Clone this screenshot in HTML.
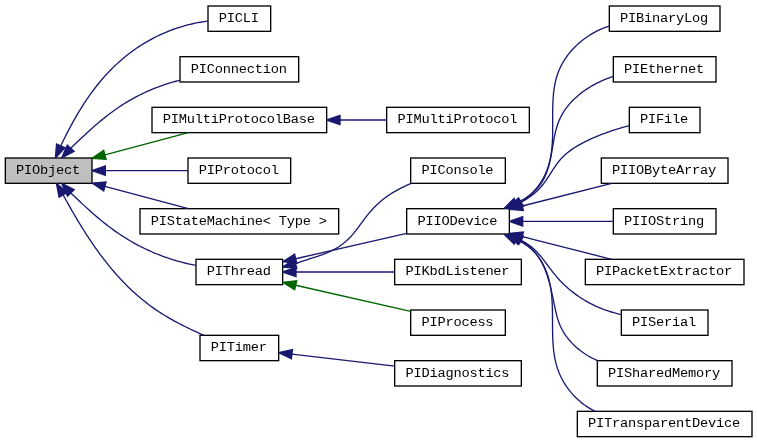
<!DOCTYPE html>
<html><head><meta charset="utf-8"><title>PIObject inheritance graph</title>
<style>
html,body{margin:0;padding:0;background:#fff;}
svg{display:block;}
text{font-family:"Liberation Mono",monospace;font-size:13.700px;fill:#000;text-anchor:middle;letter-spacing:-0.22px;}
.b{stroke:#000;stroke-width:1.333;}
.e{fill:none;stroke-width:1.333;stroke-linejoin:round;}
.a{stroke-width:1.333;stroke-linejoin:miter;stroke-miterlimit:2;}
</style></head>
<body>
<svg width="757" height="443" viewBox="0 0 757 443">
<rect x="0" y="0" width="757" height="443" fill="#fff"/>
<rect class="b" x="5.33" y="158.00" width="86.67" height="25.33" fill="#bfbfbf"/>
<rect class="b" x="208.00" y="6.00" width="62.67" height="25.33" fill="#fff"/>
<rect class="b" x="180.00" y="56.67" width="118.67" height="25.33" fill="#fff"/>
<rect class="b" x="152.00" y="107.33" width="174.67" height="25.33" fill="#fff"/>
<rect class="b" x="188.00" y="158.00" width="102.67" height="25.33" fill="#fff"/>
<rect class="b" x="140.00" y="208.67" width="198.67" height="25.33" fill="#fff"/>
<rect class="b" x="196.00" y="259.33" width="86.67" height="25.33" fill="#fff"/>
<rect class="b" x="200.00" y="335.33" width="78.67" height="25.33" fill="#fff"/>
<rect class="b" x="386.67" y="107.33" width="142.67" height="25.33" fill="#fff"/>
<rect class="b" x="410.67" y="158.00" width="94.67" height="25.33" fill="#fff"/>
<rect class="b" x="406.67" y="208.67" width="102.67" height="25.33" fill="#fff"/>
<rect class="b" x="394.67" y="259.33" width="126.67" height="25.33" fill="#fff"/>
<rect class="b" x="410.67" y="310.00" width="94.67" height="25.33" fill="#fff"/>
<rect class="b" x="394.67" y="360.67" width="126.67" height="25.33" fill="#fff"/>
<rect class="b" x="609.33" y="6.00" width="110.67" height="25.33" fill="#fff"/>
<rect class="b" x="613.33" y="56.67" width="102.67" height="25.33" fill="#fff"/>
<rect class="b" x="629.33" y="107.33" width="70.67" height="25.33" fill="#fff"/>
<rect class="b" x="601.33" y="158.00" width="126.67" height="25.33" fill="#fff"/>
<rect class="b" x="613.33" y="208.67" width="102.67" height="25.33" fill="#fff"/>
<rect class="b" x="585.33" y="259.33" width="158.67" height="25.33" fill="#fff"/>
<rect class="b" x="621.33" y="310.00" width="86.67" height="25.33" fill="#fff"/>
<rect class="b" x="597.33" y="360.67" width="134.67" height="25.33" fill="#fff"/>
<rect class="b" x="577.33" y="411.33" width="174.67" height="25.33" fill="#fff"/>
<g style="filter:grayscale(1)">
<text x="48.07" y="174.07" xml:space="preserve">PIObject</text>
<text x="238.73" y="22.07" xml:space="preserve">PICLI</text>
<text x="238.73" y="72.73" xml:space="preserve">PIConnection</text>
<text x="238.73" y="123.40" xml:space="preserve">PIMultiProtocolBase</text>
<text x="238.73" y="174.07" xml:space="preserve">PIProtocol</text>
<text x="238.73" y="224.73" xml:space="preserve">PIStateMachine&lt; Type &gt;</text>
<text x="238.73" y="275.40" xml:space="preserve">PIThread</text>
<text x="238.73" y="351.40" xml:space="preserve">PITimer</text>
<text x="457.40" y="123.40" xml:space="preserve">PIMultiProtocol</text>
<text x="457.40" y="174.07" xml:space="preserve">PIConsole</text>
<text x="457.40" y="224.73" xml:space="preserve">PIIODevice</text>
<text x="457.40" y="275.40" xml:space="preserve">PIKbdListener</text>
<text x="457.40" y="326.07" xml:space="preserve">PIProcess</text>
<text x="457.40" y="376.73" xml:space="preserve">PIDiagnostics</text>
<text x="664.07" y="22.07" xml:space="preserve">PIBinaryLog</text>
<text x="664.07" y="72.73" xml:space="preserve">PIEthernet</text>
<text x="664.07" y="123.40" xml:space="preserve">PIFile</text>
<text x="664.07" y="174.07" xml:space="preserve">PIIOByteArray</text>
<text x="664.07" y="224.73" xml:space="preserve">PIIOString</text>
<text x="664.07" y="275.40" xml:space="preserve">PIPacketExtractor</text>
<text x="664.07" y="326.07" xml:space="preserve">PISerial</text>
<text x="664.07" y="376.73" xml:space="preserve">PISharedMemory</text>
<text x="664.07" y="427.40" xml:space="preserve">PITransparentDevice</text>
</g>
<path class="e" stroke="#191970" d="M208.00,21.10 L205.41,21.44 L202.83,21.81 L200.27,22.23 L197.71,22.69 L195.17,23.19 L192.64,23.74 L190.13,24.32 L187.63,24.94 L185.15,25.60 L182.68,26.31 L180.22,27.05 L177.78,27.83 L175.36,28.65 L172.95,29.50 L170.55,30.40 L168.18,31.33 L165.82,32.29 L163.48,33.30 L161.15,34.34 L158.84,35.41 L156.56,36.52 L154.28,37.67 L152.03,38.85 L149.80,40.07 L147.59,41.32 L145.39,42.60 L143.22,43.91 L141.06,45.26 L138.93,46.64 L136.82,48.06 L134.73,49.50 L132.66,50.98 L130.61,52.48 L128.59,54.02 L126.58,55.59 L124.60,57.19 L122.65,58.81 L120.71,60.47 L118.80,62.16 L116.92,63.87 L115.06,65.61 L113.22,67.38 L111.41,69.18 L109.62,71.00 L107.86,72.85 L106.12,74.73 L104.41,76.63 L102.73,78.56 L101.06,80.50 L99.42,82.47 L97.81,84.47 L96.22,86.48 L94.65,88.51 L93.10,90.56 L91.57,92.63 L90.07,94.72 L88.59,96.83 L87.13,98.95 L85.69,101.09 L84.27,103.24 L82.87,105.40 L81.49,107.58 L80.13,109.77 L78.79,111.97 L77.47,114.18 L76.17,116.41 L74.89,118.64 L73.62,120.87 L72.37,123.12 L71.14,125.37 L69.93,127.63 L68.73,129.90 L67.56,132.16 L66.39,134.43 L65.24,136.71 L64.11,138.98 L63.00,141.26 L61.89,143.54 L60.81,145.81"/>
<path class="a" fill="#191970" stroke="#191970" d="M55.40,158.00 L65.07,147.70 L56.54,143.92 Z"/>
<path class="e" stroke="#191970" d="M180.00,80.20 L177.50,80.84 L175.02,81.51 L172.54,82.21 L170.08,82.94 L167.63,83.70 L165.18,84.49 L162.76,85.31 L160.34,86.17 L157.94,87.05 L155.55,87.97 L153.17,88.92 L150.81,89.89 L148.46,90.90 L146.13,91.94 L143.81,93.01 L141.51,94.11 L139.22,95.24 L136.95,96.41 L134.70,97.60 L132.46,98.82 L130.24,100.08 L128.03,101.36 L125.85,102.68 L123.68,104.02 L121.54,105.40 L119.41,106.81 L117.29,108.24 L115.20,109.70 L113.12,111.19 L111.06,112.71 L109.02,114.24 L106.99,115.80 L104.97,117.39 L102.97,118.99 L100.99,120.61 L99.01,122.25 L97.05,123.91 L95.10,125.58 L93.17,127.27 L91.25,128.97 L89.33,130.69 L87.43,132.41 L85.54,134.15 L83.66,135.89 L81.78,137.65 L79.92,139.41 L78.06,141.17 L76.21,142.94 L74.37,144.71 L72.54,146.49 L70.71,148.26"/>
<path class="a" fill="#191970" stroke="#191970" d="M61.60,158.00 L74.12,151.45 L67.30,145.07 Z"/>
<path class="e" stroke="#006400" d="M188.30,132.67 L104.89,154.87"/>
<path class="a" fill="#006400" stroke="#006400" d="M92.00,158.30 L106.09,159.38 L103.68,150.36 Z"/>
<path class="e" stroke="#191970" d="M188.00,170.67 L105.33,170.67"/>
<path class="a" fill="#191970" stroke="#191970" d="M92.00,170.67 L105.33,175.33 L105.33,166.00 Z"/>
<path class="e" stroke="#191970" d="M188.30,208.67 L104.89,186.48"/>
<path class="a" fill="#191970" stroke="#191970" d="M92.00,183.05 L103.69,190.99 L106.09,181.97 Z"/>
<path class="e" stroke="#191970" d="M196.00,265.40 L193.45,264.90 L190.90,264.38 L188.37,263.82 L185.84,263.23 L183.32,262.61 L180.81,261.96 L178.32,261.27 L175.83,260.56 L173.36,259.81 L170.89,259.04 L168.44,258.23 L166.00,257.39 L163.57,256.53 L161.15,255.63 L158.74,254.70 L156.35,253.75 L153.97,252.76 L151.61,251.74 L149.25,250.70 L146.92,249.62 L144.59,248.52 L142.28,247.39 L139.99,246.23 L137.71,245.04 L135.45,243.82 L133.20,242.57 L130.96,241.29 L128.75,239.99 L126.55,238.66 L124.37,237.30 L122.20,235.91 L120.05,234.49 L117.92,233.05 L115.81,231.58 L113.71,230.09 L111.63,228.57 L109.56,227.03 L107.51,225.47 L105.47,223.89 L103.45,222.29 L101.44,220.66 L99.44,219.02 L97.46,217.37 L95.49,215.70 L93.53,214.01 L91.59,212.31 L89.65,210.59 L87.73,208.86 L85.82,207.13 L83.91,205.38 L82.02,203.62 L80.14,201.85 L78.26,200.08 L76.40,198.30 L74.54,196.52 L72.69,194.73 L70.85,192.94"/>
<path class="a" fill="#191970" stroke="#191970" d="M61.60,183.33 L67.49,196.17 L74.21,189.70 Z"/>
<path class="e" stroke="#191970" d="M204.00,335.33 L201.67,334.31 L199.33,333.27 L197.01,332.22 L194.68,331.16 L192.36,330.08 L190.05,328.99 L187.75,327.88 L185.46,326.76 L183.17,325.62 L180.89,324.46 L178.63,323.28 L176.37,322.09 L174.13,320.87 L171.90,319.63 L169.69,318.37 L167.49,317.09 L165.31,315.79 L163.14,314.46 L160.99,313.10 L158.86,311.72 L156.75,310.32 L154.66,308.88 L152.58,307.42 L150.53,305.93 L148.50,304.42 L146.49,302.88 L144.50,301.31 L142.53,299.72 L140.57,298.10 L138.64,296.46 L136.73,294.80 L134.84,293.12 L132.96,291.41 L131.11,289.68 L129.27,287.92 L127.46,286.15 L125.66,284.36 L123.88,282.55 L122.12,280.71 L120.38,278.86 L118.66,276.99 L116.95,275.10 L115.27,273.20 L113.60,271.27 L111.95,269.34 L110.32,267.38 L108.70,265.41 L107.10,263.42 L105.52,261.42 L103.96,259.41 L102.41,257.38 L100.87,255.34 L99.35,253.29 L97.85,251.22 L96.36,249.14 L94.88,247.05 L93.42,244.96 L91.98,242.85 L90.55,240.73 L89.13,238.60 L87.72,236.46 L86.33,234.32 L84.95,232.16 L83.58,230.00 L82.22,227.84 L80.88,225.66 L79.54,223.48 L78.22,221.30 L76.91,219.11 L75.61,216.92 L74.32,214.72 L73.04,212.52 L71.77,210.31 L70.51,208.11 L69.26,205.90 L68.01,203.69 L66.78,201.48 L65.55,199.27 L64.34,197.06 L63.13,194.85"/>
<path class="a" fill="#191970" stroke="#191970" d="M56.40,183.33 L59.10,197.20 L67.16,192.49 Z"/>
<path class="e" stroke="#191970" d="M386.67,120.00 L340.00,120.00"/>
<path class="a" fill="#191970" stroke="#191970" d="M326.67,120.00 L340.00,124.67 L340.00,115.33 Z"/>
<path class="e" stroke="#191970" d="M411.20,183.33 L408.86,184.37 L406.51,185.43 L404.17,186.53 L401.85,187.67 L399.53,188.85 L397.24,190.08 L394.97,191.34 L392.74,192.66 L390.53,194.03 L388.37,195.45 L386.25,196.92 L384.19,198.45 L382.17,200.04 L380.21,201.69 L378.31,203.40 L376.45,205.16 L374.65,206.97 L372.89,208.83 L371.17,210.73 L369.49,212.67 L367.85,214.65 L366.24,216.66 L364.67,218.71 L363.12,220.78 L361.59,222.87 L360.06,224.96 L358.53,227.05 L356.99,229.11 L355.42,231.15 L353.81,233.15 L352.15,235.10 L350.44,236.99 L348.66,238.80 L346.82,240.54 L344.90,242.21 L342.93,243.79 L340.88,245.30 L338.78,246.72 L336.61,248.06 L334.38,249.31 L332.09,250.49 L329.76,251.59 L327.38,252.63 L324.97,253.61 L322.53,254.55 L320.06,255.44 L317.58,256.30 L315.09,257.12 L312.60,257.93 L310.10,258.73 L307.62,259.52 L305.15,260.31 L302.71,261.11 L300.29,261.93 L297.91,262.77 L295.57,263.64"/>
<path class="a" fill="#191970" stroke="#191970" d="M282.67,267.00 L296.75,268.16 L294.39,259.13 Z"/>
<path class="e" stroke="#191970" d="M406.67,233.40 L295.67,258.73"/>
<path class="a" fill="#191970" stroke="#191970" d="M282.67,261.70 L296.70,263.28 L294.63,254.18 Z"/>
<path class="e" stroke="#191970" d="M394.67,272.00 L296.00,272.00"/>
<path class="a" fill="#191970" stroke="#191970" d="M282.67,272.00 L296.00,276.67 L296.00,267.33 Z"/>
<path class="e" stroke="#006400" d="M410.67,311.30 L295.67,285.25"/>
<path class="a" fill="#006400" stroke="#006400" d="M282.67,282.30 L294.64,289.80 L296.70,280.69 Z"/>
<path class="e" stroke="#191970" d="M394.67,366.10 L291.91,354.14"/>
<path class="a" fill="#191970" stroke="#191970" d="M278.67,352.60 L291.37,358.78 L292.45,349.51 Z"/>
<path class="e" stroke="#191970" d="M609.33,26.10 L606.97,26.85 L604.61,27.68 L602.27,28.60 L599.95,29.60 L597.65,30.68 L595.38,31.84 L593.13,33.07 L590.92,34.37 L588.74,35.75 L586.59,37.19 L584.49,38.70 L582.43,40.28 L580.42,41.91 L578.46,43.61 L576.56,45.37 L574.71,47.18 L572.92,49.05 L571.19,50.97 L569.54,52.94 L567.95,54.96 L566.43,57.02 L564.99,59.12 L563.63,61.27 L562.35,63.46 L561.16,65.68 L560.06,67.94 L559.05,70.24 L558.13,72.56 L557.31,74.92 L556.57,77.30 L555.91,79.70 L555.33,82.13 L554.83,84.59 L554.39,87.06 L554.01,89.55 L553.69,92.06 L553.42,94.58 L553.21,97.12 L553.04,99.67 L552.90,102.23 L552.80,104.79 L552.74,107.37 L552.69,109.94 L552.67,112.52 L552.66,115.11 L552.67,117.69 L552.68,120.26 L552.69,122.84 L552.70,125.41 L552.70,127.98 L552.69,130.54 L552.66,133.10 L552.61,135.65 L552.53,138.19 L552.42,140.73 L552.27,143.25 L552.08,145.77 L551.85,148.28 L551.56,150.77 L551.22,153.26 L550.82,155.73 L550.35,158.19 L549.81,160.63 L549.19,163.06 L548.50,165.48 L547.72,167.87 L546.85,170.25 L545.89,172.62 L544.83,174.96 L543.68,177.27 L542.43,179.54 L541.09,181.77 L539.66,183.94 L538.14,186.05 L536.54,188.08 L534.85,190.04 L533.08,191.90 L531.23,193.67 L529.29,195.33 L527.28,196.88 L525.19,198.30 L523.03,199.60 L520.79,200.75 L518.48,201.75 L516.10,202.60"/>
<path class="a" fill="#191970" stroke="#191970" d="M504.10,208.40 L518.14,206.80 L514.07,198.40 Z"/>
<path class="e" stroke="#191970" d="M613.33,76.40 L611.00,77.19 L608.65,78.03 L606.30,78.94 L603.94,79.91 L601.60,80.94 L599.26,82.03 L596.93,83.18 L594.63,84.39 L592.34,85.66 L590.08,86.99 L587.86,88.37 L585.67,89.82 L583.52,91.32 L581.42,92.87 L579.37,94.49 L577.37,96.15 L575.43,97.88 L573.55,99.66 L571.74,101.49 L570.01,103.38 L568.35,105.32 L566.77,107.32 L565.28,109.37 L563.88,111.47 L562.58,113.62 L561.37,115.82 L560.25,118.07 L559.22,120.37 L558.28,122.70 L557.43,125.08 L556.66,127.49 L555.97,129.93 L555.35,132.40 L554.80,134.90 L554.30,137.42 L553.83,139.95 L553.39,142.50 L552.97,145.05 L552.54,147.61 L552.12,150.16 L551.68,152.72 L551.22,155.26 L550.72,157.79 L550.20,160.31 L549.62,162.80 L548.99,165.28 L548.29,167.72 L547.52,170.13 L546.67,172.51 L545.73,174.84 L544.69,177.13 L543.55,179.38 L542.29,181.57 L540.91,183.70 L539.43,185.78 L537.85,187.79 L536.17,189.74 L534.40,191.61 L532.54,193.42 L530.61,195.14 L528.60,196.78 L526.53,198.34 L524.39,199.81 L522.19,201.19 L519.95,202.48"/>
<path class="a" fill="#191970" stroke="#191970" d="M508.00,208.40 L522.02,206.66 L517.87,198.30 Z"/>
<path class="e" stroke="#191970" d="M629.33,125.60 L626.88,126.27 L624.42,126.96 L621.95,127.67 L619.49,128.40 L617.02,129.16 L614.56,129.93 L612.10,130.74 L609.64,131.56 L607.19,132.42 L604.75,133.30 L602.32,134.21 L599.89,135.15 L597.48,136.12 L595.08,137.13 L592.70,138.16 L590.34,139.23 L587.99,140.33 L585.66,141.47 L583.35,142.65 L581.07,143.86 L578.81,145.11 L576.59,146.41 L574.41,147.77 L572.27,149.17 L570.18,150.64 L568.16,152.18 L566.19,153.79 L564.30,155.47 L562.48,157.24 L560.75,159.09 L559.10,161.03 L557.52,163.05 L556.01,165.13 L554.54,167.26 L553.11,169.42 L551.70,171.62 L550.30,173.82 L548.89,176.02 L547.47,178.20 L546.02,180.36 L544.52,182.47 L542.97,184.53 L541.35,186.51 L539.64,188.42 L537.86,190.24 L535.99,191.98 L534.05,193.65 L532.04,195.24 L529.97,196.77 L527.84,198.23 L525.65,199.64 L523.41,200.99 L521.12,202.29"/>
<path class="a" fill="#191970" stroke="#191970" d="M509.60,209.00 L523.47,206.32 L518.77,198.26 Z"/>
<path class="e" stroke="#191970" d="M611.70,183.33 L522.26,206.02"/>
<path class="a" fill="#191970" stroke="#191970" d="M509.33,209.30 L523.40,210.55 L521.11,201.50 Z"/>
<path class="e" stroke="#191970" d="M613.33,221.33 L522.67,221.33"/>
<path class="a" fill="#191970" stroke="#191970" d="M509.33,221.33 L522.67,226.00 L522.67,216.67 Z"/>
<path class="e" stroke="#191970" d="M611.70,259.33 L522.26,236.65"/>
<path class="a" fill="#191970" stroke="#191970" d="M509.33,233.37 L521.11,241.17 L523.40,232.12 Z"/>
<path class="e" stroke="#191970" d="M621.33,314.60 L618.81,314.03 L616.30,313.40 L613.81,312.73 L611.34,312.00 L608.89,311.23 L606.46,310.40 L604.05,309.53 L601.67,308.61 L599.30,307.64 L596.96,306.63 L594.65,305.56 L592.36,304.45 L590.09,303.29 L587.86,302.08 L585.65,300.83 L583.47,299.53 L581.32,298.19 L579.20,296.80 L577.12,295.36 L575.06,293.88 L573.04,292.35 L571.05,290.78 L569.10,289.17 L567.19,287.51 L565.31,285.81 L563.47,284.06 L561.66,282.27 L559.90,280.44 L558.18,278.56 L556.50,276.64 L554.86,274.68 L553.26,272.69 L551.69,270.66 L550.15,268.60 L548.62,266.54 L547.09,264.48 L545.55,262.42 L544.00,260.38 L542.43,258.36 L540.82,256.39 L539.17,254.46 L537.46,252.58 L535.69,250.77 L533.85,249.03 L531.92,247.38 L529.92,245.81 L527.83,244.33 L525.68,242.92 L523.45,241.59 L521.16,240.34"/>
<path class="a" fill="#191970" stroke="#191970" d="M509.60,233.70 L518.84,244.38 L523.49,236.29 Z"/>
<path class="e" stroke="#191970" d="M597.63,360.67 L595.30,359.63 L592.99,358.51 L590.71,357.31 L588.46,356.04 L586.25,354.70 L584.09,353.28 L581.98,351.80 L579.91,350.25 L577.91,348.63 L575.96,346.95 L574.08,345.20 L572.27,343.40 L570.53,341.54 L568.87,339.62 L567.30,337.64 L565.81,335.62 L564.41,333.54 L563.11,331.41 L561.90,329.24 L560.80,327.02 L559.81,324.76 L558.91,322.45 L558.10,320.11 L557.37,317.74 L556.70,315.33 L556.09,312.90 L555.52,310.44 L554.97,307.96 L554.45,305.46 L553.94,302.95 L553.43,300.42 L552.91,297.88 L552.38,295.34 L551.83,292.80 L551.26,290.26 L550.67,287.73 L550.04,285.21 L549.39,282.70 L548.69,280.21 L547.95,277.75 L547.17,275.31 L546.33,272.90 L545.44,270.52 L544.49,268.18 L543.47,265.88 L542.39,263.63 L541.23,261.42 L539.99,259.27 L538.67,257.18 L537.26,255.15 L535.76,253.18 L534.16,251.28 L532.47,249.45 L530.67,247.70 L528.76,246.03 L526.74,244.44 L524.60,242.94 L522.33,241.53 L519.95,240.22"/>
<path class="a" fill="#191970" stroke="#191970" d="M508.00,234.30 L517.87,244.40 L522.02,236.04 Z"/>
<path class="e" stroke="#191970" d="M595.20,411.33 L592.89,410.17 L590.63,408.92 L588.42,407.59 L586.26,406.18 L584.15,404.70 L582.10,403.14 L580.10,401.51 L578.16,399.82 L576.28,398.06 L574.46,396.24 L572.71,394.37 L571.03,392.43 L569.41,390.45 L567.86,388.41 L566.39,386.32 L564.99,384.19 L563.66,382.02 L562.41,379.81 L561.25,377.56 L560.16,375.27 L559.16,372.96 L558.25,370.61 L557.42,368.24 L556.68,365.85 L556.01,363.43 L555.42,360.99 L554.91,358.53 L554.45,356.06 L554.07,353.56 L553.73,351.05 L553.45,348.52 L553.22,345.99 L553.03,343.44 L552.88,340.88 L552.76,338.31 L552.68,335.73 L552.61,333.15 L552.57,330.56 L552.55,327.97 L552.53,325.37 L552.52,322.78 L552.52,320.19 L552.51,317.59 L552.49,315.00 L552.46,312.41 L552.42,309.83 L552.36,307.25 L552.27,304.69 L552.15,302.12 L551.99,299.57 L551.80,297.03 L551.56,294.51 L551.28,291.99 L550.94,289.49 L550.55,287.00 L550.09,284.54 L549.57,282.09 L548.97,279.65 L548.31,277.24 L547.56,274.86 L546.72,272.49 L545.80,270.15 L544.78,267.83 L543.67,265.55 L542.47,263.30 L541.17,261.10 L539.78,258.95 L538.30,256.87 L536.73,254.85 L535.07,252.91 L533.32,251.05 L531.48,249.28 L529.55,247.61 L527.53,246.04 L525.43,244.58 L523.23,243.24 L520.96,242.03 L518.59,240.96 L516.14,240.02"/>
<path class="a" fill="#191970" stroke="#191970" d="M504.10,234.30 L514.14,244.24 L518.15,235.81 Z"/>
</svg>
</body></html>
